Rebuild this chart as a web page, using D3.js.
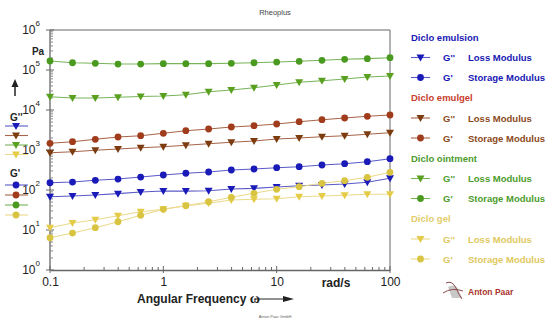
<!DOCTYPE html>
<html>
<head>
<meta charset="utf-8">
<script src="https://cdn.jsdelivr.net/npm/d3@7"></script>
<style>
body { margin:0; background:#fff; }
svg { font-family: "Liberation Sans", Arial, sans-serif; }
</style>
</head>
<body>
<div id="chart"></div>
<script>
//Frequencies in rad/s (5 points per decade)
var freq = [0.1, 0.158, 0.251, 0.398, 0.631, 1, 1.58, 2.51, 3.98, 6.31, 10, 15.8, 25.1, 39.8, 63.1, 100];

//Moduli in Pa
var emulsionLoss = [68, 71, 75, 81, 89, 94, 94, 96, 106, 110, 119, 128, 133, 141, 156, 196];
var emulsionStorage = [152, 158, 175, 188, 211, 237, 262, 282, 316, 335, 361, 382, 422, 454, 510, 606];
var emulgelLoss = [856, 907, 983, 1059, 1141, 1209, 1311, 1437, 1557, 1679, 1884, 1995, 2150, 2279, 2469, 2706];
var emulgelStorage = [1471, 1613, 1851, 2113, 2279, 2616, 3038, 3350, 3758, 4051, 4467, 5100, 5723, 6310, 6959, 7499];
var ointmentLoss = [21500, 20000, 20000, 20800, 21800, 22400, 24100, 28700, 31600, 36100, 42200, 49300, 54000, 59600, 66800, 70800];
var ointmentStorage = [168000, 152000, 147000, 141000, 141000, 144000, 144000, 144000, 147000, 152000, 158000, 165000, 175000, 185000, 192000, 203000];
var gelLoss = [11.4, 15.0, 18.1, 22.8, 28.7, 32.9, 40.5, 46.5, 56.2, 58.6, 60.6, 68.0, 70.8, 73.7, 78.1, 78.1];
var gelStorage = [6.4, 8.4, 11.4, 16.1, 23.3, 32.9, 40.5, 51.0, 65.7, 82.7, 104, 121, 147, 171, 208, 277];

var xTicks = [0.1, 1, 10, 100];
var xTickLabels = ["0.1", "1", "10", "100"];
var yTicks = [1, 10, 100, 1000, 10000, 100000, 1000000];

var samples = ["Diclo emulsion", "Diclo emulgel", "Diclo ointment", "Diclo gel"];

//Styles
var series = [
    {name: samples[0], loss: emulsionLoss, storage: emulsionStorage, title: "#1818b4", text: "#1818b4", lossCol: "#1a1ab8", storCol: "#1a1ab8", line: "#5a5ac8"},
    {name: samples[1], loss: emulgelLoss, storage: emulgelStorage, title: "#c8402c", text: "#8c4a1c", lossCol: "#7c3c10", storCol: "#a03c1c", line: "#a8644a"},
    {name: samples[2], loss: ointmentLoss, storage: ointmentStorage, title: "#4c9c2c", text: "#4c9c2c", lossCol: "#5aa020", storCol: "#4a9a20", line: "#78b458"},
    {name: samples[3], loss: gelLoss, storage: gelStorage, title: "#e4cc6c", text: "#e0c860", lossCol: "#e4cc48", storCol: "#d8c440", line: "#ecd98c"}
];

var width = 550, height = 323;
var svg = d3.select("#chart").append("svg")
    .attr("width", width)
    .attr("height", height);

var x = d3.scaleLog().domain([0.1, 100]).range([50, 390]);
var y = d3.scaleLog().domain([1, 1000000]).range([270, 30]);

//Frame (top and right lines)
svg.append("path")
    .attr("d", "M" + x(0.1) + "," + y(1e6) + "H" + x(100) + "V" + y(1))
    .attr("fill", "none")
    .attr("stroke", "#666")
    .attr("stroke-width", 1);

//Axes
var xAxis = d3.axisBottom(x)
    .tickValues(xTicks)
    .tickFormat(function(d, i) { return xTickLabels[i]; })
    .tickSize(0)
    .tickPadding(7);

var gx = svg.append("g")
    .attr("transform", "translate(0," + y(1) + ")")
    .call(xAxis);
gx.select(".domain").attr("stroke", "#666").attr("stroke-width", 1.3);
gx.selectAll("text").attr("font-size", 12).attr("fill", "#222");

//x minor and major ticks
var xMinor = [];
[0.1, 1, 10].forEach(function(dec) {
    for (var k = 2; k <= 9; k++) xMinor.push(dec * k);
});
gx.selectAll(".minor").data(xMinor).enter().append("line")
    .attr("x1", d => x(d)).attr("x2", d => x(d))
    .attr("y1", 0).attr("y2", -3)
    .attr("stroke", "#666");
gx.selectAll(".major").data(xTicks).enter().append("line")
    .attr("x1", d => x(d)).attr("x2", d => x(d))
    .attr("y1", -4).attr("y2", 3)
    .attr("stroke", "#666");

var gy = svg.append("g")
    .attr("transform", "translate(" + x(0.1) + ",0)");
gy.append("line")
    .attr("y1", y(1)).attr("y2", y(1e6))
    .attr("stroke", "#666").attr("stroke-width", 1.3);
var yMinor = [];
[1, 10, 100, 1000, 10000, 100000].forEach(function(dec) {
    for (var k = 2; k <= 9; k++) yMinor.push(dec * k);
});
gy.selectAll(".minor").data(yMinor).enter().append("line")
    .attr("y1", d => y(d)).attr("y2", d => y(d))
    .attr("x1", 0).attr("x2", 3)
    .attr("stroke", "#888");
gy.selectAll(".major").data(yTicks).enter().append("line")
    .attr("y1", d => y(d)).attr("y2", d => y(d))
    .attr("x1", -4).attr("x2", 4)
    .attr("stroke", "#666");

var yLab = gy.selectAll(".ylab").data(yTicks).enter().append("text")
    .attr("x", -10)
    .attr("y", d => y(d) + 4)
    .attr("text-anchor", "end")
    .attr("font-size", 12)
    .attr("fill", "#222");
yLab.append("tspan").text("10");
yLab.append("tspan")
    .attr("dy", -8)
    .attr("font-size", 8)
    .text(d => Math.round(Math.log10(d)));

//Axis titles
var xTitle = svg.append("text")
    .attr("x", 137).attr("y", 303)
    .attr("font-size", 12).attr("font-weight", "bold")
    .attr("fill", "#222");
xTitle.append("tspan").text("Angular Frequency ");
xTitle.append("tspan")
    .attr("font-family", "Liberation Serif, serif")
    .attr("font-size", 14)
    .text("ω");
svg.append("text")
    .attr("x", 336).attr("y", 287)
    .attr("text-anchor", "middle")
    .attr("font-size", 12).attr("font-weight", "bold")
    .attr("fill", "#222")
    .text("rad/s");
svg.append("text")
    .attr("x", 38).attr("y", 55)
    .attr("text-anchor", "middle")
    .attr("font-size", 10).attr("font-weight", "bold")
    .attr("fill", "#222")
    .text("Pa");

//Arrows
svg.append("line").attr("x1", 255).attr("x2", 284).attr("y1", 299).attr("y2", 299)
    .attr("stroke", "#222").attr("stroke-width", 1);
svg.append("path").attr("d", "M283,296L294,299L283,302Z").attr("fill", "#222");
svg.append("line").attr("x1", 15).attr("x2", 15).attr("y1", 96).attr("y2", 86)
    .attr("stroke", "#222").attr("stroke-width", 1.5);
svg.append("path").attr("d", "M11.5,87L15,79L18.5,87Z").attr("fill", "#222");

svg.append("text")
    .attr("x", 275).attr("y", 15)
    .attr("text-anchor", "middle")
    .attr("font-size", 7.5).attr("fill", "#444")
    .text("Rheoplus");
svg.append("text")
    .attr("x", 275).attr("y", 318)
    .attr("text-anchor", "middle")
    .attr("font-size", 4).attr("fill", "#666")
    .text("Anton Paar GmbH");

//Marker helpers
function triangle(g, cx, cy, col) {
    g.append("path")
        .attr("d", "M" + (cx - 4) + "," + (cy - 3) + "L" + (cx + 4) + "," + (cy - 3) + "L" + cx + "," + (cy + 4) + "Z")
        .attr("fill", col);
}
function circle(g, cx, cy, col) {
    g.append("circle").attr("cx", cx).attr("cy", cy).attr("r", 3.4).attr("fill", col);
}

var line = d3.line()
    .x(d => x(d[0]))
    .y(d => y(d[1]));

//Data lines and markers
var plot = svg.append("g");
series.forEach(function(s) {
    [["loss", s.lossCol, triangle], ["storage", s.storCol, circle]].forEach(function(m) {
        var pts = freq.map((f, i) => [f, s[m[0]][i]]);
        plot.append("path")
            .attr("d", line(pts))
            .attr("fill", "none")
            .attr("stroke", s.line)
            .attr("stroke-width", 1.1);
        pts.forEach(function(p) {
            m[2](plot, x(p[0]), y(p[1]), m[1]);
        });
    });
});

//Left legend (G'' and G')
svg.append("text").attr("x", 10).attr("y", 121)
    .attr("font-size", 10).attr("font-weight", "bold").attr("fill", "#222")
    .text("G''");
svg.append("text").attr("x", 10).attr("y", 177)
    .attr("font-size", 10).attr("font-weight", "bold").attr("fill", "#222")
    .text("G'");
series.forEach(function(s, i) {
    var ly = 126 + i * 9.5;
    svg.append("line").attr("x1", 5).attr("x2", 28).attr("y1", ly).attr("y2", ly)
        .attr("stroke", s.line).attr("stroke-width", 1.1);
    triangle(svg, 16, ly, s.lossCol);
    var cy = 185 + i * 10;
    svg.append("line").attr("x1", 5).attr("x2", 28).attr("y1", cy).attr("y2", cy)
        .attr("stroke", s.line).attr("stroke-width", 1.1);
    circle(svg, 16, cy, s.storCol);
});

//Right legend
var legend = svg.append("g");
series.forEach(function(s, i) {
    var top = 37 + i * 60.5;
    legend.append("text").attr("x", 411).attr("y", top + 3.5)
        .attr("font-size", 9.5).attr("font-weight", "bold").attr("fill", s.title)
        .text(s.name);
    [["G''", "Loss Modulus", s.lossCol, triangle], ["G'", "Storage Modulus", s.storCol, circle]].forEach(function(r, j) {
        var ry = top + 20.5 + j * 20;
        legend.append("line").attr("x1", 411).attr("x2", 430).attr("y1", ry).attr("y2", ry)
            .attr("stroke", s.line).attr("stroke-width", 1.1);
        r[3](legend, 420.5, ry, r[2]);
        legend.append("text").attr("x", 443).attr("y", ry + 3.5)
            .attr("font-size", 9.5).attr("font-weight", "bold").attr("fill", s.text)
            .text(r[0]);
        legend.append("text").attr("x", 468).attr("y", ry + 3.5)
            .attr("font-size", 9.5).attr("font-weight", "bold").attr("fill", s.text)
            .text(r[1]);
    });
});

//Anton Paar logo
var logo = svg.append("g");
logo.append("path")
    .attr("d", "M448,287 Q455,283 458,289 L462,298 L452,298 Z")
    .attr("fill", "#c8c8c8");
logo.append("path")
    .attr("d", "M446,283 Q452,280 456,288 Q459,295 462,299")
    .attr("fill", "none").attr("stroke", "#8a4a4a").attr("stroke-width", 1);
logo.append("path")
    .attr("d", "M443,293 Q452,287 463,291")
    .attr("fill", "none").attr("stroke", "#8a4a4a").attr("stroke-width", 1);
logo.append("text")
    .attr("x", 468).attr("y", 295)
    .attr("font-size", 8.5).attr("font-weight", "bold").attr("fill", "#a8342c")
    .text("Anton Paar");
</script>
</body>
</html>
